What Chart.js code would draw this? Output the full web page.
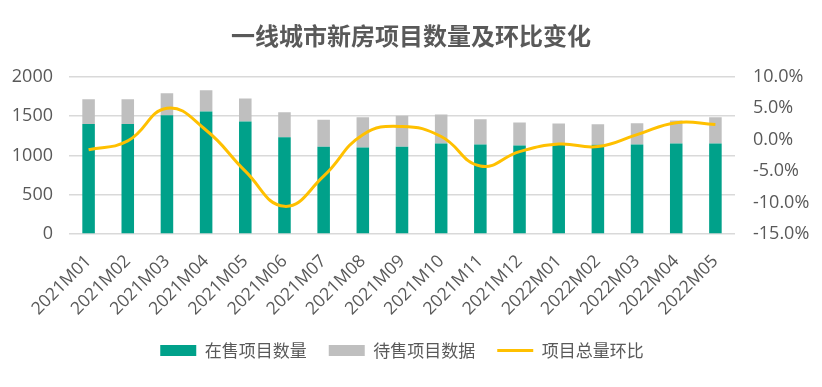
<!DOCTYPE html>
<html>
<head>
<meta charset="utf-8">
<script src="https://cdn.jsdelivr.net/npm/chart.js@4"></script>
<style>
html,body{margin:0;padding:0;background:#fff;}
#wrap{width:822px;height:387px;}
</style>
</head>
<body>
<div id="wrap"><canvas id="c" width="822" height="387"></canvas></div>
<script>
const categories = ['2021M01','2021M02','2021M03','2021M04','2021M05','2021M06','2021M07','2021M08','2021M09','2021M10','2021M11','2021M12','2022M01','2022M02','2022M03','2022M04','2022M05'];
const onSale = [1400,1400,1510,1560,1430,1230,1110,1100,1110,1150,1140,1125,1140,1135,1140,1150,1150];
const pending = [315,315,280,270,295,320,345,385,395,370,320,295,265,260,270,295,335];
const momPct = [-1.6,-0.2,5.0,1.5,-5.0,-10.6,-5.8,0.8,2.1,0.5,-4.2,-1.9,-0.7,-1.1,0.8,2.7,2.4];
const leftTicks = [0,500,1000,1500,2000];
const rightTicks = [-15,-10,-5,0,5,10];
const seriesNames = ['在售项目数量','待售项目数据','项目总量环比'];

const TXT = '#595959';
const GREEN = '#00A18A';
const GREY = '#BFBFBF';
const GOLD = '#FFC000';
const NUMFONT = '"Open Sans", "Noto Sans CJK SC", sans-serif';
const CJKFONT = '"Noto Sans CJK SC", sans-serif';

const legendShift = {
  id: 'legendShift',
  afterLayout(chart) {
    if (chart.legend) { chart.legend.left -= 9; chart.legend.right -= 9; }
  }
};

new Chart(document.getElementById('c'), {
  type: 'bar',
  plugins: [legendShift],
  data: {
    labels: categories,
    datasets: [
      {label: seriesNames[0], data: onSale, backgroundColor: GREEN, yAxisID: 'y', barPercentage: 0.32, categoryPercentage: 1, order: 1},
      {label: seriesNames[1], data: pending, backgroundColor: GREY, yAxisID: 'y', barPercentage: 0.32, categoryPercentage: 1, order: 1},
      {label: seriesNames[2], data: momPct, type: 'line', borderColor: GOLD, backgroundColor: GOLD, borderWidth: 3, pointRadius: 0, tension: 0.45, yAxisID: 'y1', order: 0}
    ]
  },
  options: {
    responsive: false,
    animation: false,
    layout: {padding: {left: 0, right: 0, top: 0, bottom: 18}},
    plugins: {
      title: {display: true, text: '一线城市新房项目数量及环比变化', color: TXT, font: {family: CJKFONT, size: 24, weight: 'bold'}, padding: {top: 21, bottom: 27}},
      tooltip: {enabled: false},
      legend: {
        position: 'bottom',
        labels: {
          color: TXT,
          font: {family: CJKFONT, size: 17},
          usePointStyle: true,
          pointStyleWidth: 36,
          boxHeight: 11,
          padding: 22,
          generateLabels: function(chart) {
            const ds = chart.data.datasets;
            return [0,1,2].map(i => ({
              text: ds[i].label,
              fillStyle: i === 2 ? GOLD : ds[i].backgroundColor,
              strokeStyle: i === 2 ? GOLD : ds[i].backgroundColor,
              lineWidth: i === 2 ? 3 : 0,
              pointStyle: i === 2 ? 'line' : 'rect',
              fontColor: TXT,
              hidden: false,
              datasetIndex: i
            }));
          }
        }
      }
    },
    scales: {
      x: {
        stacked: true,
        grid: {display: false},
        border: {display: false},
        ticks: {color: TXT, font: {family: NUMFONT, size: 17.5}, minRotation: 45, maxRotation: 45, autoSkip: false, padding: 9},
        afterFit: function(s) { s.height = 86; }
      },
      y: {
        stacked: true,
        position: 'left',
        min: 0, max: 2000,
        afterBuildTicks: function(s) { s.ticks = leftTicks.map(v => ({value: v})); },
        grid: {color: '#D9D9D9', lineWidth: 1.5, drawTicks: false},
        border: {display: false},
        ticks: {color: TXT, font: {family: NUMFONT, size: 18}, padding: 16, callback: v => String(v)},
        afterFit: function(s) { s.width = 69; }
      },
      y1: {
        position: 'right',
        min: -15, max: 10,
        afterBuildTicks: function(s) { s.ticks = rightTicks.map(v => ({value: v})); },
        grid: {display: false, drawTicks: false},
        border: {display: false},
        ticks: {color: TXT, font: {family: NUMFONT, size: 18}, padding: 18, callback: v => v.toFixed(1) + '%'},
        afterFit: function(s) { s.width = 87; }
      }
    }
  }
});
</script>
</body>
</html>
